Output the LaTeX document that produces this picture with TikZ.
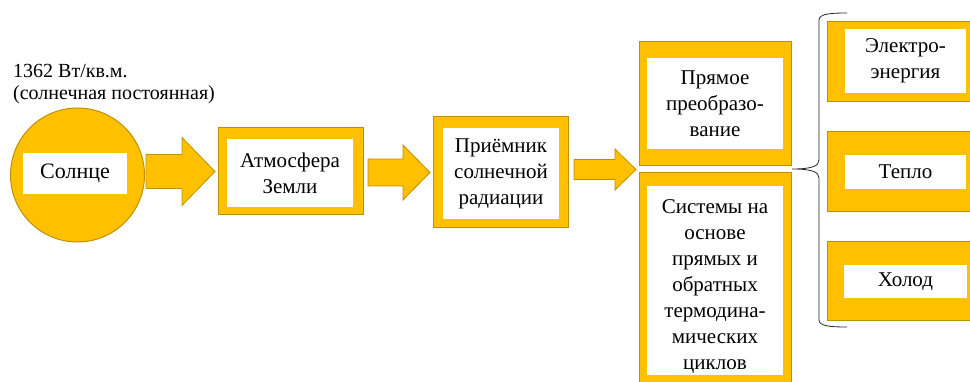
\documentclass[tikz,border=0pt]{standalone}
\usepackage{fontspec}
\setmainfont{Liberation Serif}
\usetikzlibrary{calc}
\definecolor{sungold}{RGB}{255,192,0}
\definecolor{sunedge}{RGB}{191,144,0}

\tikzset{
  goldbox/.style={draw=sunedge, fill=sungold, line width=1pt, inner sep=0pt, outer sep=0pt},
  whitebox/.style={fill=white, inner sep=0pt, align=center, font=\fontsize{21}{26}\selectfont},
  boxtext/.style={inner sep=0pt, align=center, font=\fontsize{21}{26}\selectfont},
  arrowbody/.style={draw=sunedge, fill=sungold, line width=0.8pt, line join=miter},
}

% block arrow: start, tip, shaft half height, head half height, head length
\newcommand{\blockarr}[5]{%
  \path[arrowbody] let \p1=(#1), \p2=(#2) in
    (\x1,\y2+#3pt) -- (\x2-#5pt,\y2+#3pt) -- (\x2-#5pt,\y2+#4pt) -- (\x2,\y2)
    -- (\x2-#5pt,\y2-#4pt) -- (\x2-#5pt,\y2-#3pt) -- (\x1,\y2-#3pt) -- cycle;}

\begin{document}
\begin{tikzpicture}[x=1pt, y=-1pt]
    \useasboundingbox (0,0) rectangle (970,382);
    \clip (0,0) rectangle (970,382);

    % sun and solar constant
    \node[anchor=base west, align=left, inner sep=0pt,
      font=\fontsize{20}{22}\selectfont] (solconst) at (13,100)
      {1362 Вт/кв.м.\\(солнечная постоянная)};
    \node[circle, draw=sunedge, fill=sungold, line width=1pt, minimum size=134,
      inner sep=0pt] (sun) at (77.5,175) {};
    \node[whitebox, font=\fontsize{22}{26}\selectfont, minimum width=104,
      minimum height=41] (suntext) at (75,173.5) {Солнце};

    % chain of boxes
    \node[goldbox, minimum width=145, minimum height=87] (atm) at (290.5,171.5) {};
    \node[whitebox, minimum width=126, minimum height=68] (atmtext) at (290,173)
      {Атмосфера\\Земли};

    \node[goldbox, minimum width=135, minimum height=111] (recv) at (500.5,172.5) {};
    \node[whitebox, minimum width=116, minimum height=91] (recvtext) at (501,173.5)
      {Приёмник\\солнечной\\радиации};

    \node[goldbox, minimum width=152, minimum height=124] (prime) at (715,104) {};
    \node[whitebox, minimum width=136, minimum height=91] (primetext) at (715,103.5)
      {Прямое\\преобразо-\\вание};

    \node[goldbox, minimum width=152, minimum height=219] (cycles) at (715,282.5) {};
    \node[whitebox, minimum width=136, minimum height=189] (cyclesin) at (715,280.5) {};
    \node[boxtext] (cyclestext) at ($(cyclesin)+(0,6)$)
      {Системы на\\основе\\прямых и\\обратных\\термодина-\\мических\\циклов};

    \coordinate (split) at ($(prime.south west)!0.5!(cycles.north west)$);

    % outputs
    \node[goldbox, minimum width=157, minimum height=80] (elec) at (905.5,62) {};
    \node[whitebox, minimum width=121, minimum height=64] (electext) at (905.5,61)
      {Электро-\\энергия};

    \node[goldbox, minimum width=157, minimum height=80] (heat) at (905.5,172) {};
    \node[whitebox, minimum width=121, minimum height=34] (heattext) at (905.5,172)
      {Тепло};

    \node[goldbox, minimum width=157, minimum height=79] (cold) at (905.5,281.5) {};
    \node[whitebox, minimum width=123, minimum height=33] (coldtext) at (905.5,281.5)
      {Холод};

    % arrows
    \blockarr{[xshift=1pt]sun.east}{[xshift=-3pt]atm.west}{17}{34}{33}
    \blockarr{[xshift=5pt]atm.east}{[xshift=-3pt]recv.west}{13.5}{27.5}{27}
    \blockarr{[xshift=6pt]recv.east}{[xshift=-3pt]split}{10}{20.5}{21}

    % brace
    \coordinate (bracetip) at (792,169);
    \draw[black!85, line width=0.8pt] (847,13) .. controls (830,13) and (819,14) .. (819,20)
      -- (819,160) .. controls (819,166) and (812,169) .. (bracetip)
      .. controls (812,169) and (819,172) .. (819,178)
      -- (819,320) .. controls (819,326) and (830,327) .. (847,327);
\end{tikzpicture}
\end{document}
